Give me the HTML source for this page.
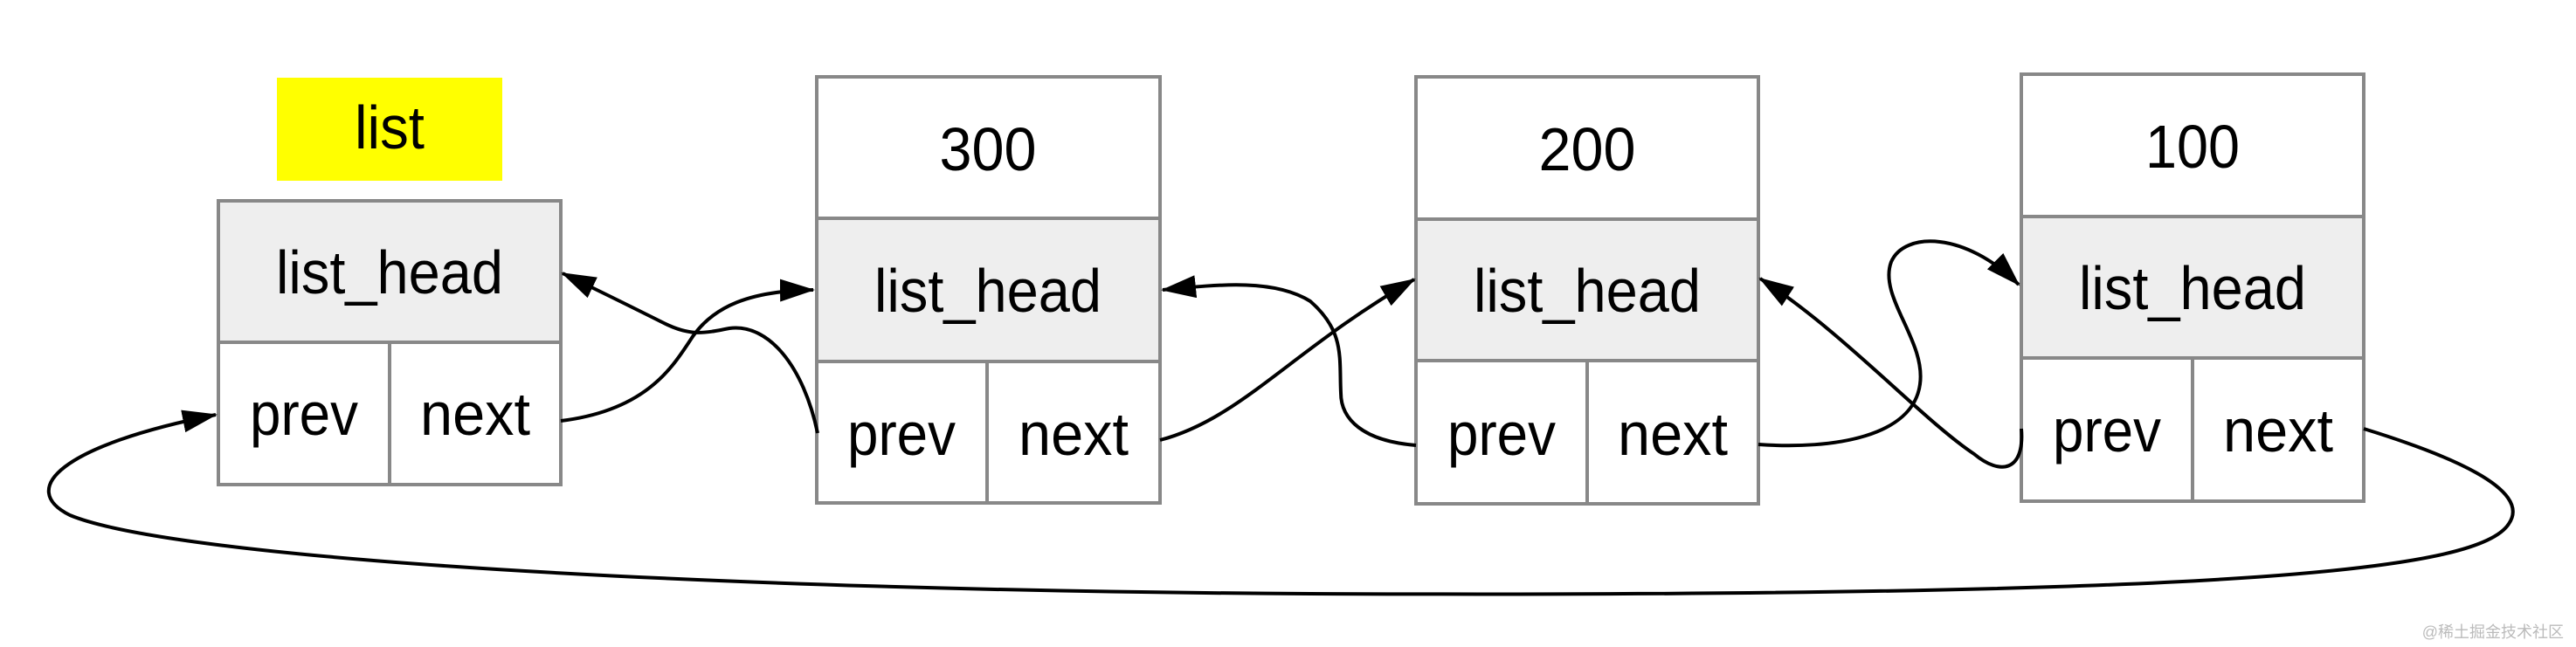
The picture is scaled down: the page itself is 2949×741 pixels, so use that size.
<!DOCTYPE html>
<html><head><meta charset="utf-8"><style>
html,body{margin:0;padding:0;background:#fff;}
svg{display:block;}
text{font-family:"Liberation Sans",Arial,sans-serif;fill:#000;}
</style></head><body>
<svg width="2949" height="741" viewBox="0 0 2949 741" xmlns="http://www.w3.org/2000/svg">
<defs>
<marker id="ar" viewBox="0 0 40 26" refX="38" refY="13" markerWidth="40" markerHeight="26" orient="auto" markerUnits="userSpaceOnUse">
<path d="M0,0 L40,13 L0,26 Z" fill="#000"/>
</marker>
</defs>
<rect x="317" y="89" width="258" height="118" fill="#ffff00"/>
<text x="446" y="170" font-size="70" text-anchor="middle" textLength="80" lengthAdjust="spacingAndGlyphs">list</text>

<g stroke="#888" stroke-width="4">
<rect x="250" y="230" width="392" height="162" fill="#eeeeee"/>
<rect x="250" y="392" width="392" height="163" fill="#fff"/>
<line x1="446" y1="392" x2="446" y2="555"/>
<rect x="935" y="88" width="393" height="162" fill="#fff"/>
<rect x="935" y="250" width="393" height="164" fill="#eeeeee"/>
<rect x="935" y="414" width="393" height="162" fill="#fff"/>
<line x1="1130" y1="414" x2="1130" y2="576"/>
<rect x="1621" y="88" width="392" height="163" fill="#fff"/>
<rect x="1621" y="251" width="392" height="162" fill="#eeeeee"/>
<rect x="1621" y="413" width="392" height="164" fill="#fff"/>
<line x1="1817" y1="413" x2="1817" y2="577"/>
<rect x="2314" y="85" width="392" height="163" fill="#fff"/>
<rect x="2314" y="248" width="392" height="162" fill="#eeeeee"/>
<rect x="2314" y="410" width="392" height="164" fill="#fff"/>
<line x1="2510" y1="410" x2="2510" y2="574"/>
</g>

<g font-size="70" text-anchor="middle" lengthAdjust="spacingAndGlyphs">
<text x="446" y="336" textLength="260" lengthAdjust="spacingAndGlyphs">list_head</text>
<text x="348" y="498" textLength="124" lengthAdjust="spacingAndGlyphs">prev</text>
<text x="544" y="498" textLength="126" lengthAdjust="spacingAndGlyphs">next</text>
<text x="1131" y="195" textLength="111" lengthAdjust="spacingAndGlyphs">300</text>
<text x="1131" y="357" textLength="260" lengthAdjust="spacingAndGlyphs">list_head</text>
<text x="1032" y="521" textLength="124" lengthAdjust="spacingAndGlyphs">prev</text>
<text x="1229" y="521" textLength="126" lengthAdjust="spacingAndGlyphs">next</text>
<text x="1817" y="195" textLength="111" lengthAdjust="spacingAndGlyphs">200</text>
<text x="1817" y="357" textLength="260" lengthAdjust="spacingAndGlyphs">list_head</text>
<text x="1719" y="521" textLength="124" lengthAdjust="spacingAndGlyphs">prev</text>
<text x="1915" y="521" textLength="126" lengthAdjust="spacingAndGlyphs">next</text>
<text x="2510" y="192" textLength="108" lengthAdjust="spacingAndGlyphs">100</text>
<text x="2510" y="354" textLength="260" lengthAdjust="spacingAndGlyphs">list_head</text>
<text x="2412" y="517" textLength="124" lengthAdjust="spacingAndGlyphs">prev</text>
<text x="2608" y="517" textLength="126" lengthAdjust="spacingAndGlyphs">next</text>
</g>

<g fill="none" stroke="#000" stroke-width="4" marker-end="url(#ar)">
<path d="M642,482 C740,470 770,420 790,390 C815,350 860,333 931,332"/>
<path d="M936,496 C920,420 880,370 835,376 C805,382 790,385 760,370 C720,350 690,335 644,313"/>
<path d="M1328,504 C1420,480 1480,400 1619,320"/>
<path d="M1621,510 C1560,505 1535,480 1535,450 C1533,410 1540,380 1500,345 C1460,320 1400,325 1331,332"/>
<path d="M2013,509 C2100,515 2190,500 2198,440 C2205,390 2150,340 2165,300 C2180,265 2250,265 2311,326"/>
<path d="M2314,491 C2318,540 2290,545 2260,520 C2200,480 2110,380 2015,319"/>
<path d="M2706,491 C2800,520 2900,560 2872,600 C2840,650 2600,685 1500,680 C800,676 200,640 80,590 C20,560 70,510 247,475"/>
</g>

<text x="2935" y="730" font-size="18" style="fill:#bbb" text-anchor="end" font-family="'Liberation Sans','Noto Sans CJK SC',sans-serif">@稀土掘金技术社区</text>
</svg>
</body></html>
